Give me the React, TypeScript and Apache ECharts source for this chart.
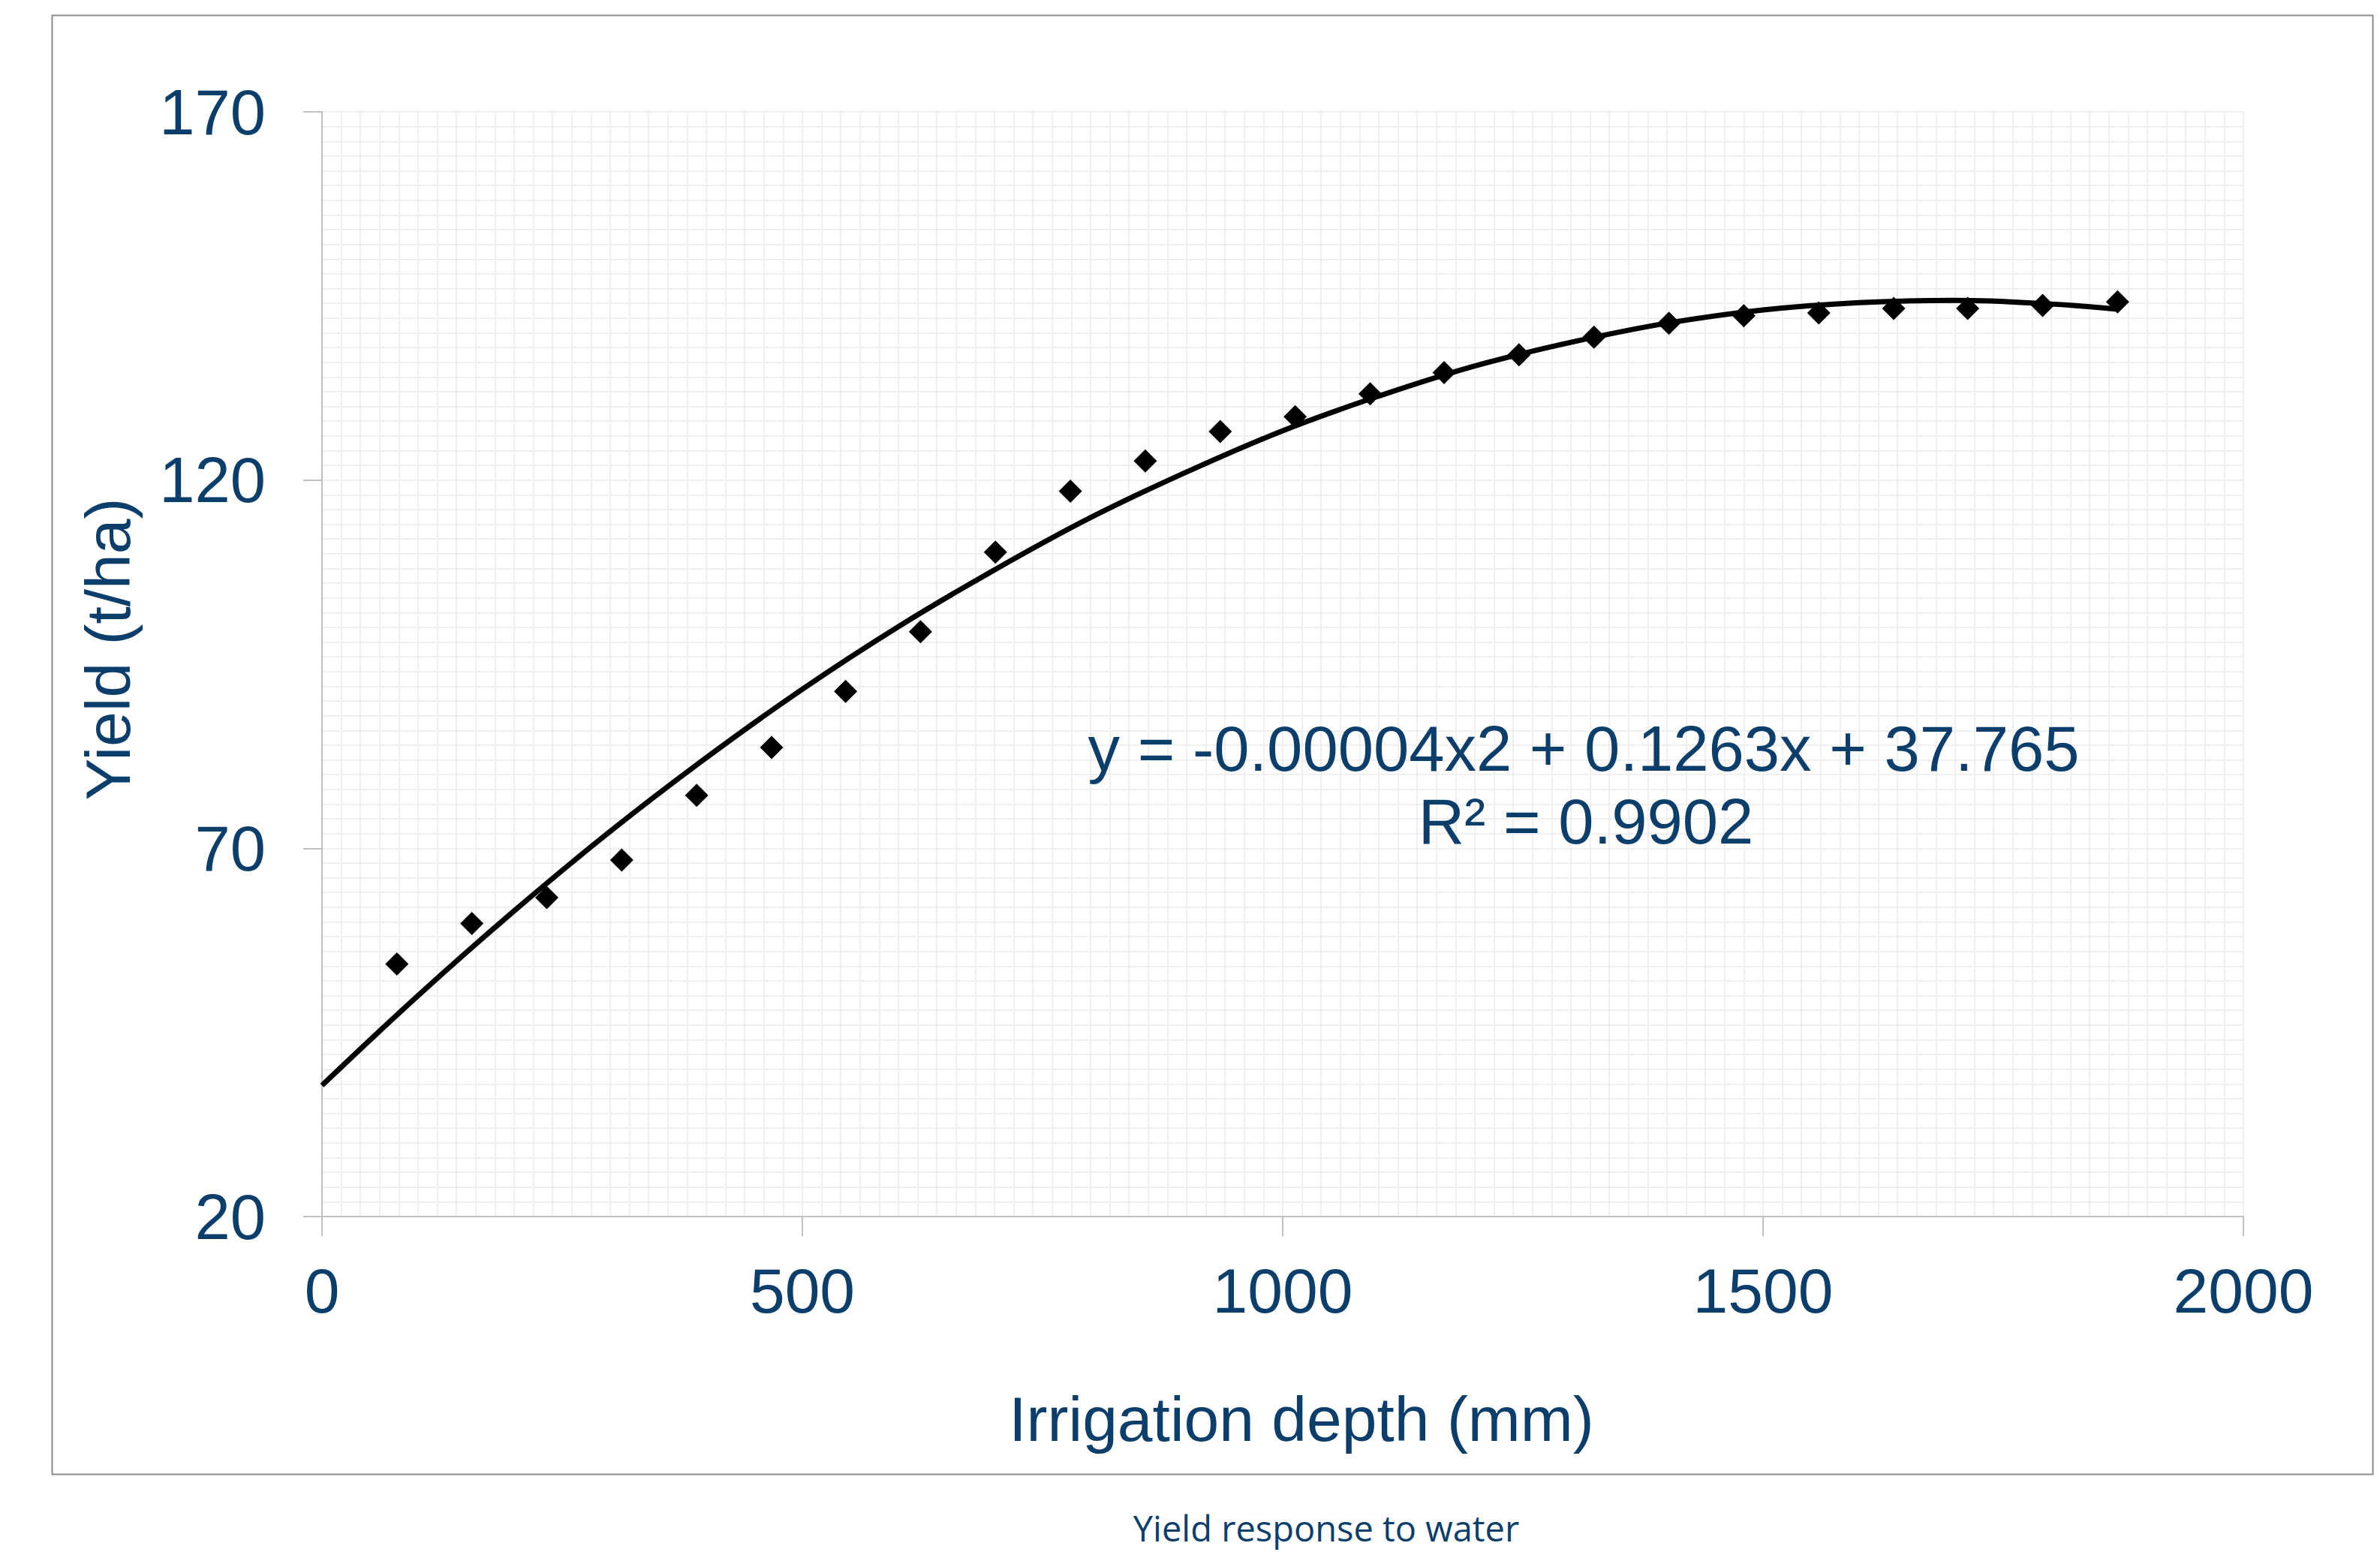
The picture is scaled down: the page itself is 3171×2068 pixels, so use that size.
import React, { useEffect, useRef } from "react";
import * as echarts from "echarts";

// Measured data points (irrigation depth mm, yield t/ha)
const depthValues = [78, 156, 234, 312, 390, 468, 545, 623, 701, 779, 857, 935, 1013, 1091, 1168, 1246, 1324, 1402, 1480, 1558, 1636, 1713, 1791, 1869];
const yieldValues = [54.3, 59.8, 63.3, 68.4, 77.2, 83.7, 91.3, 99.4, 110.2, 118.5, 122.6, 126.6, 128.6, 131.7, 134.6, 137.0, 139.4, 141.3, 142.3, 142.7, 143.3, 143.3, 143.7, 144.2];

// Trend line
const trendDepth = [0, 100, 200, 300, 400, 500, 600, 700, 800, 900, 1000, 1100, 1200, 1300, 1400, 1500, 1600, 1700, 1800, 1869];
const trendYield = [37.8, 50.0, 61.5, 72.3, 82.3, 91.6, 100.1, 107.8, 114.9, 121.1, 126.7, 131.4, 135.5, 138.7, 141.3, 143.1, 144.1, 144.4, 143.9, 143.2];

const xTicks = [0, 500, 1000, 1500, 2000];
const yTicks = [20, 70, 120, 170];

const xTitle = "Irrigation depth (mm)";
const yTitle = "Yield (t/ha)";
const equationLine = "y = -0.00004x2 + 0.1263x + 37.765";
const r2Line = "R² = 0.9902";
const caption = "Yield response to water";

const NAVY = "#0c3e6c";
const FONT = "'Liberation Sans', Arial, sans-serif";

export default function App() {
  const ref = useRef<HTMLDivElement>(null);
  useEffect(() => {
    if (!ref.current) return;
    const chart = echarts.init(ref.current, null, { renderer: "svg" });
    const gridColor = "#efefef";
    const axisColor = "#bfbfbf";
    chart.setOption({
      animation: false,
      backgroundColor: "#ffffff",
      grid: { left: 429, top: 149, right: 182, bottom: 447, containLabel: false },
      xAxis: [
        {
          type: "value", min: 0, max: 2000, interval: 20, position: "top",
          axisLine: { show: false }, axisTick: { show: false }, axisLabel: { show: false },
          splitLine: { show: true, lineStyle: { color: gridColor, width: 2 } },
        },
        {
          type: "value", min: xTicks[0], max: xTicks[xTicks.length - 1], interval: 500, position: "bottom",
          axisLine: { show: true, onZero: false, lineStyle: { color: axisColor, width: 2 } },
          axisTick: { show: true, length: 26, lineStyle: { color: axisColor, width: 2 } },
          axisLabel: {
            show: true, margin: 57, fontSize: 84, color: NAVY, fontFamily: FONT,
            formatter: (v: number) => String(v),
          },
          splitLine: { show: false },
        },
      ],
      yAxis: [
        {
          type: "value", min: 20, max: 170, interval: 2, position: "right",
          axisLine: { show: false }, axisTick: { show: false }, axisLabel: { show: false },
          splitLine: { show: true, lineStyle: { color: gridColor, width: 2 } },
        },
        {
          type: "value", min: yTicks[0], max: yTicks[yTicks.length - 1], position: "left",
          axisLine: { show: true, onZero: false, lineStyle: { color: axisColor, width: 2 } },
          axisTick: { show: true, length: 25, customValues: yTicks, lineStyle: { color: axisColor, width: 2 } },
          axisLabel: {
            show: true, margin: 75, fontSize: 85, color: NAVY, fontFamily: FONT, customValues: yTicks,
            formatter: (v: number) => String(v),
          },
          splitLine: { show: false },
        },
      ],
      series: [
        {
          type: "line", xAxisIndex: 1, yAxisIndex: 1, smooth: 0.4, showSymbol: false, symbol: "none",
          lineStyle: { color: "#000000", width: 7 },
          data: trendDepth.map((x, i) => [x, trendYield[i]]),
          z: 3,
        },
        {
          type: "scatter", xAxisIndex: 1, yAxisIndex: 1, symbol: "diamond", symbolSize: 31,
          itemStyle: { color: "#000000", opacity: 1 },
          data: depthValues.map((x, i) => [x, yieldValues[i]]),
          z: 4,
        },
      ],
      graphic: [
        {
          type: "rect", left: 67, top: 18, z: 10, silent: true,
          shape: { x: 0, y: 0, width: 3092, height: 1944 },
          style: { fill: "none", stroke: "#8c8c8c", lineWidth: 2 },
        },
        {
          type: "text", x: 1734, y: 1891, z: 10,
          style: { text: xTitle, fontSize: 84, fill: NAVY, fontFamily: FONT, align: "center", verticalAlign: "middle" },
        },
        {
          type: "text", x: 144, y: 865, rotation: Math.PI / 2, z: 10,
          style: { text: yTitle, fontSize: 84, fill: NAVY, fontFamily: FONT, align: "center", verticalAlign: "middle" },
        },
        {
          type: "text", x: 2110, y: 997, z: 10,
          style: { text: equationLine, fontSize: 85, fill: NAVY, fontFamily: FONT, align: "center", verticalAlign: "middle" },
        },
        {
          type: "text", x: 2113, y: 1094, z: 10,
          style: { text: r2Line, fontSize: 85, fill: NAVY, fontFamily: FONT, align: "center", verticalAlign: "middle" },
        },
        {
          type: "text", x: 1767, y: 2036, z: 10,
          style: { text: caption, fontSize: 47, fill: NAVY, fontFamily: "'Open Sans', sans-serif", align: "center", verticalAlign: "middle" },
        },
      ],
    });
    return () => chart.dispose();
  }, []);
  return (
    <div
      ref={ref}
      style={{ position: "absolute", left: 0, top: 0, width: 3171, height: 2068, background: "#ffffff" }}
    />
  );
}
